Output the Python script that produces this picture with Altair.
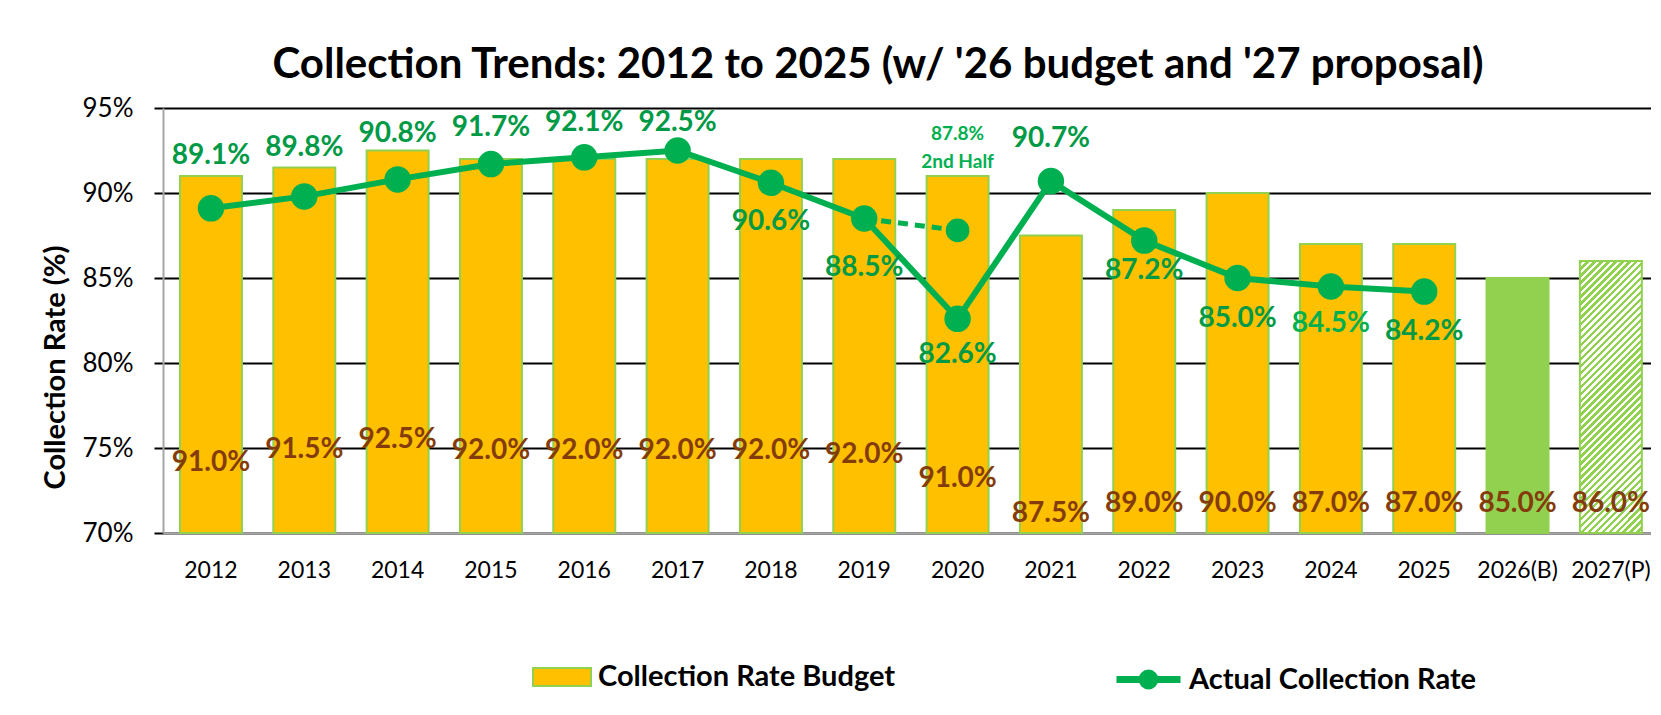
import altair as alt
import pandas as pd

years = ["2012", "2013", "2014", "2015", "2016", "2017", "2018", "2019", "2020",
         "2021", "2022", "2023", "2024", "2025", "2026(B)", "2027(P)"]
budget = [91.0, 91.5, 92.5, 92.0, 92.0, 92.0, 92.0, 92.0, 91.0, 87.5, 89.0, 90.0,
          87.0, 87.0, 85.0, 86.0]
budget_kind = ["Collection Rate Budget"] * 14 + ["Budget 2026", "Proposal 2027"]
budget_label_y = [74.1, 74.9, 75.5, 74.8, 74.8, 74.8, 74.8, 74.6, 73.2, 71.1, 71.7,
                  71.7, 71.7, 71.7, 71.7, 71.7]

actual_years = years[:14]
actual = [89.1, 89.8, 90.8, 91.7, 92.1, 92.5, 90.6, 88.5, 82.6, 90.7, 87.2, 85.0, 84.5, 84.2]
actual_label_y = [92.2, 92.65, 93.5, 93.8, 94.1, 94.1, 88.3, 85.6, 80.5, 93.2, 85.4,
                  82.6, 82.3, 81.8]

half_years = ["2019", "2020"]
half_values = [88.5, 87.8]
half_label_lines = ["87.8%", "2nd Half"]
half_label_y = [93.5, 91.8]

FONT = "Lato"
YELLOW = "#FFC000"
LIGHT_GREEN = "#92D050"
LINE_GREEN = "#00B050"
LABEL_GREEN = "#009A46"
BROWN = "#843C0C"

bars = pd.DataFrame({"year": years, "value": budget, "kind": budget_kind,
                     "label_y": budget_label_y,
                     "label": [f"{v:.1f}%" for v in budget]})
act = pd.DataFrame({"year": actual_years, "value": actual, "label_y": actual_label_y,
                    "label": [f"{v:.1f}%" for v in actual],
                    "series": "Actual Collection Rate"})
half = pd.DataFrame({"year": half_years, "value": half_values})
half_pt = half.iloc[[1]]
half_lbl = pd.DataFrame({"year": ["2020", "2020"], "label_y": half_label_y,
                         "label": half_label_lines})

x_scale = alt.Scale(domain=years, paddingInner=0.336, paddingOuter=0.14, align=0.65)
y_scale = alt.Scale(domain=[70, 95], nice=False, zero=False)

x_axis = alt.Axis(title=None, labelFont=FONT, labelFontSize=23, labelColor="black",
                  labelAngle=0, ticks=False, labelPadding=26, domainColor="#A6A6A6",
                  domainWidth=2, grid=False)
y_axis = alt.Axis(title="Collection Rate (%)", values=[70, 75, 80, 85, 90, 95],
                  labelExpr="datum.value + '%'", labelFont=FONT, labelFontSize=26,
                  labelColor="black", labelPadding=21, tickSize=9, tickColor="black",
                  tickWidth=2, domainColor="#A6A6A6", domainWidth=2, grid=True,
                  gridColor="black", gridWidth=2, titleFont=FONT, titleFontSize=29,
                  titleFontWeight="bold", titleColor="black", titleAngle=-90,
                  titleX=-108, titleY=259, titleAlign="center", titleBaseline="middle")


def X():
    return alt.X("year:N", sort=years, scale=x_scale, axis=x_axis)


def Y(field):
    return alt.Y(f"{field}:Q", scale=y_scale, axis=y_axis)


bar_layer = alt.Chart(bars).transform_filter(
    alt.datum.kind != "Proposal 2027"
).mark_bar(stroke=LIGHT_GREEN, strokeWidth=2).encode(
    x=X(),
    y=Y("value"),
    y2=alt.datum(70),
    fill=alt.Fill("kind:N",
                  scale=alt.Scale(domain=["Collection Rate Budget", "Budget 2026"],
                                  range=[YELLOW, LIGHT_GREEN]),
                  legend=alt.Legend(values=["Collection Rate Budget"], title=None,
                                    orient="none", legendX=369, legendY=539,
                                    symbolType="M-1,-0.31H1V0.31H-1Z", symbolSize=3364,
                                    symbolStrokeColor=LIGHT_GREEN, symbolStrokeWidth=2,
                                    labelFont=FONT, labelFontSize=29,
                                    labelFontWeight="bold", labelColor="black",
                                    labelOffset=6, padding=0, labelLimit=600)),
)

# hatched stripes for the 2027 proposal bar
n_stripes = 48
stops = []
for i in range(n_stripes):
    o0 = i / n_stripes
    o1 = (i + 0.5) / n_stripes
    o2 = (i + 1) / n_stripes
    stops += [alt.GradientStop(color=LIGHT_GREEN, offset=o0),
              alt.GradientStop(color=LIGHT_GREEN, offset=o1),
              alt.GradientStop(color="white", offset=o1),
              alt.GradientStop(color="white", offset=o2)]
hatch = alt.LinearGradient(gradient="linear", stops=stops, x1=0, y1=0,
                           x2=0.2661, y2=1.1672)

hatch_layer = alt.Chart(bars).transform_filter(
    alt.datum.kind == "Proposal 2027"
).mark_bar(fill=hatch, stroke=LIGHT_GREEN, strokeWidth=2).encode(
    x=X(), y=Y("value"), y2=alt.datum(70),
)

budget_text = alt.Chart(bars).mark_text(
    font=FONT, fontSize=28, fontWeight="bold", color=BROWN, baseline="middle"
).encode(x=X(), y=Y("label_y"), text="label:N")

line_layer = alt.Chart(act).mark_line(strokeWidth=6).encode(
    x=X(),
    y=Y("value"),
    stroke=alt.Stroke("series:N",
                      scale=alt.Scale(domain=["Actual Collection Rate"], range=[LINE_GREEN]),
                      legend=alt.Legend(title=None, orient="none", legendX=950,
                                        legendY=536,
                                        symbolType="M-1,0H1M-0.2,0A0.2,0.2,0,1,0,0.2,0A0.2,0.2,0,1,0,-0.2,0M-0.1,0A0.1,0.1,0,1,0,0.1,0A0.1,0.1,0,1,0,-0.1,0",
                                        symbolSize=4096, symbolStrokeWidth=7,
                                        labelFont=FONT, labelFontSize=29,
                                        labelFontWeight="bold", labelColor="black",
                                        labelOffset=5, padding=0, labelLimit=600)),
)

half_line = alt.Chart(half).mark_line(strokeWidth=5, strokeDash=[10, 7],
                                      color=LINE_GREEN).encode(x=X(), y=Y("value"))

points = alt.Chart(act).mark_circle(size=700, color=LINE_GREEN, opacity=1).encode(
    x=X(), y=Y("value"))
half_point = alt.Chart(half_pt).mark_circle(size=560, color=LINE_GREEN, opacity=1).encode(
    x=X(), y=Y("value"))

actual_text = alt.Chart(act).mark_text(
    font=FONT, fontSize=28, fontWeight="bold", baseline="middle"
).encode(
    x=X(), y=Y("label_y"), text="label:N",
    color=alt.condition(alt.datum.year == "2024", alt.value(LINE_GREEN), alt.value(LABEL_GREEN)),
)

half_text = alt.Chart(half_lbl).mark_text(
    font=FONT, fontSize=19, fontWeight="bold", baseline="middle", color=LINE_GREEN
).encode(x=X(), y=Y("label_y"), text="label:N")

chart = alt.layer(
    bar_layer, hatch_layer, budget_text, line_layer, half_line, points, half_point,
    actual_text, half_text
).resolve_legend(fill="independent", stroke="independent").properties(
    width=1488, height=425,
    padding={"left": 155, "top": 100, "right": 0, "bottom": 170},
    autosize=alt.AutoSizeParams(type="none"),
    title=alt.TitleParams(
        text="Collection Trends: 2012 to 2025 (w/ '26 budget and '27 proposal)",
        font=FONT, fontSize=42, fontWeight="bold", color="black", anchor="middle",
        dx=-29, dy=12, offset=20),
).configure_view(stroke=None)

chart.save("out.html", embed_options={"renderer": "svg", "actions": False})
